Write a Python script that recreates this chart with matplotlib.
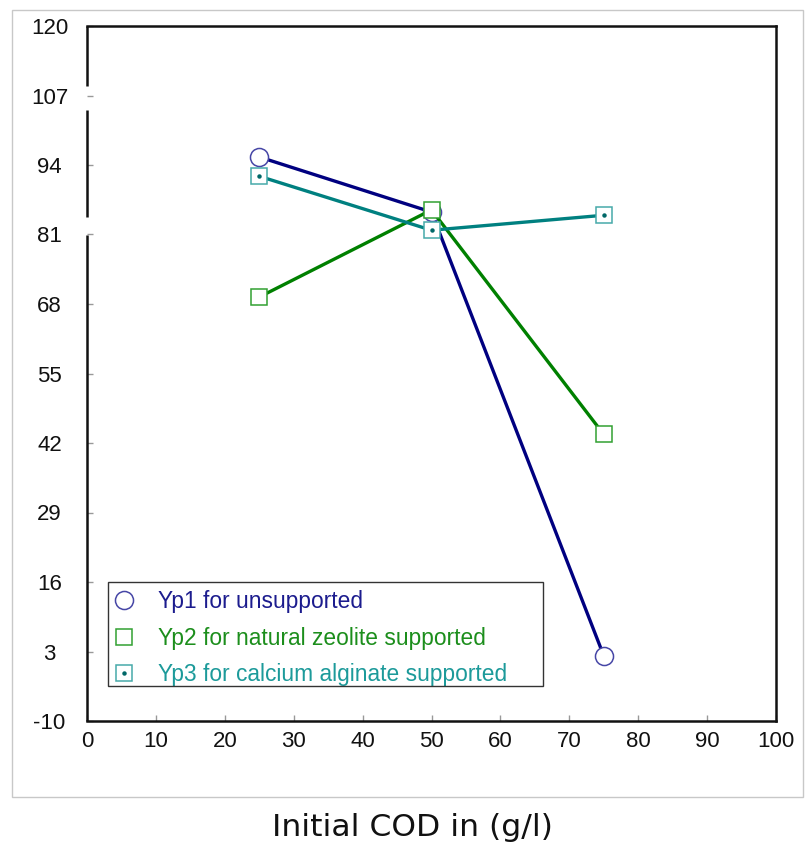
import matplotlib.pyplot as plt
import matplotlib.transforms as mtransforms
from matplotlib.lines import Line2D
from matplotlib.patches import Rectangle
import numpy as np

# initial COD (g/l)
cod = [25, 50, 75]
yp1 = [95.5, 85.2, 2.2]    # unsupported
yp2 = [69.3, 85.6, 43.6]   # natural zeolite supported
yp3 = [91.9, 81.8, 84.6]   # calcium alginate supported

labels = ['Yp1 for unsupported', 'Yp2 for natural zeolite supported',
          'Yp3 for calcium alginate supported']
xticks = list(range(0, 101, 10))
yticks = list(range(-10, 121, 13))

plt.rcParams['font.family'] = ['Liberation Sans', 'DejaVu Sans']
plt.rcParams['axes.unicode_minus'] = False

fig = plt.figure(figsize=(8.06, 8.43), dpi=100)
ax = fig.add_axes([87 / 806, 1 - 721 / 843, 689 / 806, 695 / 843])

# light grey outer frame
fig.patches.append(Rectangle((12 / 806, 1 - 797 / 843), 791 / 806, 787 / 843,
                             transform=fig.transFigure, fill=False,
                             edgecolor='#c8c8c8', lw=1))

ax.plot(cod, yp1, color='#000080', lw=2.4, marker='o', ms=13,
        mfc='white', mec='#4646a6', mew=1.1, zorder=3)
ax.plot(cod, yp2, color='#008000', lw=2.4, marker='s', ms=12,
        mfc='white', mec='#32a032', mew=1.1, zorder=4)
ax.plot(cod, yp3, color='#008080', lw=2.4, marker='s', ms=12,
        mfc='white', mec='#46aaaa', mew=1.1, zorder=5)
ax.plot(cod, yp3, ls='none', marker='o', ms=2.2, color='#006868', zorder=6)

ax.set_xlim(0, 100)
ax.set_ylim(-10, 120)
ax.set_xticks(xticks)
ax.set_yticks(yticks)
ax.tick_params(direction='in', length=4, width=1, color='#999999',
               labelsize=16, labelcolor='#111111')
ax.tick_params(axis='x', pad=7)
ax.tick_params(axis='y', pad=27)
for t in ax.get_yticklabels():
    t.set_horizontalalignment('center')

for s in ['top', 'right', 'bottom']:
    ax.spines[s].set_linewidth(1.8)
    ax.spines[s].set_color('#111111')
ax.spines['left'].set_visible(False)

# broken left axis
trans = mtransforms.blended_transform_factory(ax.transAxes, ax.transData)
segs = [(-10, 80.9), (84.2, 104.3), (108.8, 120)]
for lo, hi in segs:
    ax.plot([0, 0], [lo, hi], color='#111111', lw=1.8, transform=trans,
            clip_on=False, solid_capstyle='butt', zorder=10)

h1 = Line2D([], [], ls='none', marker='o', ms=13, mfc='white', mec='#4646a6', mew=1.1)
h2 = Line2D([], [], ls='none', marker='s', ms=12, mfc='white', mec='#32a032', mew=1.1)
h3a = Line2D([], [], ls='none', marker='s', ms=12, mfc='white', mec='#46aaaa', mew=1.1)
h3b = Line2D([], [], ls='none', marker='o', ms=2.2, color='#006868')
leg = ax.legend([h1, h2, (h3a, h3b)], labels,
                loc='center left',
                bbox_to_anchor=(108 / 806, 1 - 638 / 843),
                bbox_transform=fig.transFigure,
                fontsize=16.4, frameon=False,
                borderpad=0.25, labelspacing=0.58, handlelength=0.9,
                handletextpad=1.05, borderaxespad=0,
                labelcolor=['#1c1c8e', '#1c8e1c', '#1c9a9a'])

# legend box
ax.add_patch(Rectangle((108 / 806, 1 - 686 / 843), 435 / 806, 104 / 843,
                       transform=fig.transFigure, fill=False,
                       edgecolor='#333333', lw=1, zorder=7))

fig.text(412 / 806, 1 - 827 / 843, 'Initial COD in (g/l)', family='DejaVu Sans',
         fontsize=22.6, ha='center', va='center', color='#111111')

fig.savefig('out.png', dpi=100)
